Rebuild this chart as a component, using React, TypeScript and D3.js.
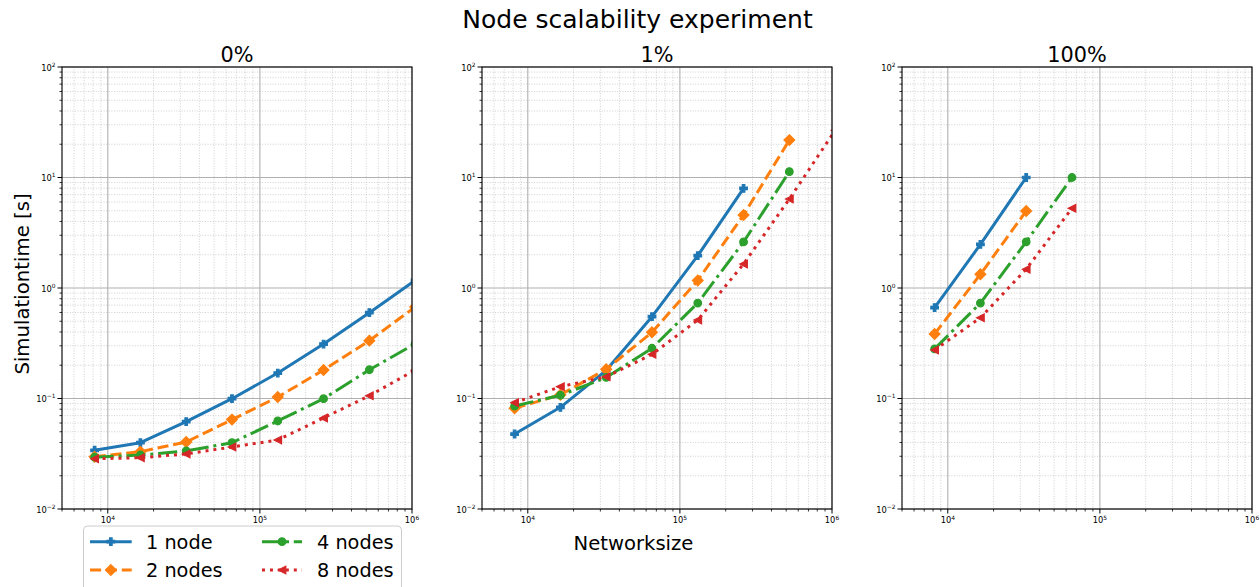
import React from "react";
import * as d3 from "d3";

// ---------------- DATA ----------------
const networkSizes = [8192, 16384, 32768, 65536, 131072, 262144, 524288, 1048576];
const panelTitles = ["0%", "1%", "100%"];
const seriesNames = ["1 node", "2 nodes", "4 nodes", "8 nodes"];

// 0% panel
const p0_node1 = [0.034, 0.0398, 0.0617, 0.0996, 0.17, 0.311, 0.598, 1.17];
const p0_node2 = [0.0297, 0.033, 0.0404, 0.0644, 0.103, 0.181, 0.334, 0.673];
const p0_node4 = [0.0294, 0.0308, 0.0335, 0.0398, 0.0626, 0.0996, 0.182, 0.313];
const p0_node8 = [0.0285, 0.0291, 0.0315, 0.0364, 0.0421, 0.0667, 0.106, 0.181];

// 1% panel
const p1_node1 = [0.0477, 0.0832, 0.18, 0.55, 1.96, 7.98];
const p1_node2 = [0.0815, 0.108, 0.184, 0.397, 1.17, 4.58, 21.8];
const p1_node4 = [0.0855, 0.107, 0.155, 0.285, 0.731, 2.61, 11.3];
const p1_node8 = [0.0917, 0.128, 0.157, 0.251, 0.513, 1.65, 6.39, 26.7];

// 100% panel
const p2_node1 = [0.664, 2.48, 10.0];
const p2_node2 = [0.384, 1.33, 4.98];
const p2_node4 = [0.281, 0.731, 2.62, 10.0];
const p2_node8 = [0.275, 0.538, 1.48, 5.26];

const panelData = [
  [p0_node1, p0_node2, p0_node4, p0_node8],
  [p1_node1, p1_node2, p1_node4, p1_node8],
  [p2_node1, p2_node2, p2_node4, p2_node8],
];

const xDomain = [5000, 1e6];
const yDomain = [1e-2, 1e2];
const xMajorExps = [4, 5, 6];
const yMajorExps = [-2, -1, 0, 1, 2];

const mainTitle = "Node scalability experiment";
const xLabel = "Networksize";
const yLabel = "Simulationtime [s]";

// ---------------- STYLE ----------------
const W = 1260;
const H = 587;
const PANEL_LEFTS = [62, 482, 902];
const PANEL_W = 350;
const TOP = 67;
const BOTTOM = 509;
const FONT = "DejaVu Sans";
const colors = ["#1f77b4", "#ff7f0e", "#2ca02c", "#d62728"];
const LW = 3;
const dashes = ["none", `${3.7 * LW} ${1.6 * LW}`, `${6.4 * LW} ${1.6 * LW} ${1 * LW} ${1.6 * LW}`, `${1 * LW} ${1.65 * LW}`];
const markerKinds = ["P", "D", "o", "<"];
const MS = 7.6;

function markerPath(kind: string, s: number): string {
  if (kind === "P") {
    const u = s / 6;
    const pts = [[-1, -3], [-1, -1], [-3, -1], [-3, 1], [-1, 1], [-1, 3], [1, 3], [1, 1], [3, 1], [3, -1], [1, -1], [1, -3]];
    return "M" + pts.map((p) => `${p[0] * u},${p[1] * u}`).join("L") + "Z";
  }
  if (kind === "D") {
    const r = (s * Math.SQRT2) / 2;
    return `M0,${-r}L${r},0L0,${r}L${-r},0Z`;
  }
  if (kind === "o") {
    const r = s / 2;
    return `M${r},0A${r},${r} 0 1,1 ${-r},0A${r},${r} 0 1,1 ${r},0Z`;
  }
  const h = s / 2;
  return `M${-h},0L${h},${-h}L${h},${h}Z`;
}

function minorValues(lo: number, hi: number): number[] {
  const out: number[] = [];
  for (let e = Math.floor(Math.log10(lo)); e <= Math.ceil(Math.log10(hi)); e++) {
    for (let m = 2; m <= 9; m++) {
      const v = m * Math.pow(10, e);
      if (v >= lo * 0.9999 && v <= hi * 1.0001) out.push(v);
    }
  }
  return out;
}

function Pow10({ x, y, exp, anchor }: { x: number; y: number; exp: number; anchor: string }) {
  const e = exp < 0 ? "\u2212" + Math.abs(exp) : String(exp);
  return (
    <text x={x} y={y} fontSize={8.3} fontFamily={FONT} textAnchor={anchor} fill="#000">
      <tspan>10</tspan>
      <tspan dy={-3.6} fontSize={5.9}>{e}</tspan>
    </text>
  );
}

function Panel({ idx }: { idx: number }) {
  const left = PANEL_LEFTS[idx];
  const right = left + PANEL_W;
  const x = d3.scaleLog().domain(xDomain).range([left, right]);
  const y = d3.scaleLog().domain(yDomain).range([BOTTOM, TOP]);
  const xMinor = minorValues(xDomain[0], xDomain[1]);
  const yMinor = minorValues(yDomain[0], yDomain[1]);
  const clipId = `clip-${idx}`;
  const series = panelData[idx];

  return (
    <g>
      <defs>
        <clipPath id={clipId}>
          <rect x={left} y={TOP} width={PANEL_W} height={BOTTOM - TOP} />
        </clipPath>
      </defs>
      <rect x={left} y={TOP} width={PANEL_W} height={BOTTOM - TOP} fill="#fff" />
      {xMinor.map((v, i) => (
        <line key={"xm" + i} x1={x(v)} x2={x(v)} y1={TOP} y2={BOTTOM} stroke="#c4c4c4" strokeWidth={0.8} strokeDasharray="1 1.6" />
      ))}
      {yMinor.map((v, i) => (
        <line key={"ym" + i} x1={left} x2={right} y1={y(v)} y2={y(v)} stroke="#c4c4c4" strokeWidth={0.8} strokeDasharray="1 1.6" />
      ))}
      {xMajorExps.map((e) => (
        <line key={"xM" + e} x1={x(Math.pow(10, e))} x2={x(Math.pow(10, e))} y1={TOP} y2={BOTTOM} stroke="#b0b0b0" strokeWidth={1.1} />
      ))}
      {yMajorExps.map((e) => (
        <line key={"yM" + e} x1={left} x2={right} y1={y(Math.pow(10, e))} y2={y(Math.pow(10, e))} stroke="#b0b0b0" strokeWidth={1.1} />
      ))}
      <g clipPath={`url(#${clipId})`}>
        {series.map((vals, si) => {
          const pts = vals.map((v, i) => [networkSizes[i], v] as [number, number]);
          const line = d3
            .line<[number, number]>()
            .x((d) => x(d[0]))
            .y((d) => y(d[1]));
          const mp = markerPath(markerKinds[si], MS);
          return (
            <g key={si}>
              <path
                d={line(pts) || ""}
                fill="none"
                stroke={colors[si]}
                strokeWidth={LW}
                strokeDasharray={dashes[si]}
                strokeLinejoin="round"
              />
              {pts.map((p, i) => (
                <path
                  key={i}
                  d={mp}
                  transform={`translate(${x(p[0])},${y(p[1])})`}
                  fill={colors[si]}
                  stroke={colors[si]}
                  strokeWidth={1.2}
                />
              ))}
            </g>
          );
        })}
      </g>
      <rect x={left} y={TOP} width={PANEL_W} height={BOTTOM - TOP} fill="none" stroke="#000" strokeWidth={1.1} />
      {xMinor.map((v, i) => (
        <line key={"xt" + i} x1={x(v)} x2={x(v)} y1={BOTTOM} y2={BOTTOM + 2.5} stroke="#000" strokeWidth={0.8} />
      ))}
      {xMajorExps.map((e) => (
        <g key={"xT" + e}>
          <line x1={x(Math.pow(10, e))} x2={x(Math.pow(10, e))} y1={BOTTOM} y2={BOTTOM + 4.5} stroke="#000" strokeWidth={1} />
          <Pow10 x={x(Math.pow(10, e))} y={BOTTOM + 14.3} exp={e} anchor="middle" />
        </g>
      ))}
      {yMinor.map((v, i) => (
        <line key={"yt" + i} x1={left - 2.5} x2={left} y1={y(v)} y2={y(v)} stroke="#000" strokeWidth={0.8} />
      ))}
      {yMajorExps.map((e) => (
        <g key={"yT" + e}>
          <line x1={left - 4.5} x2={left} y1={y(Math.pow(10, e))} y2={y(Math.pow(10, e))} stroke="#000" strokeWidth={1} />
          <Pow10 x={left - 6.5} y={y(Math.pow(10, e)) + 3.5} exp={e} anchor="end" />
        </g>
      ))}
      <text x={(left + right) / 2} y={61.7} textAnchor="middle" fontSize={20.8} fontFamily={FONT} fill="#000">
        {panelTitles[idx]}
      </text>
    </g>
  );
}

function Legend() {
  const lx = 83.5;
  const ly = 526;
  const cols = [
    { hx1: 90, hx2: 131.7, tx: 146 },
    { hx1: 262, hx2: 302, tx: 317 },
  ];
  const rows = [541.7, 570];
  const order = [
    [0, 0, 0],
    [1, 0, 1],
    [2, 1, 0],
    [3, 1, 1],
  ];
  return (
    <g>
      <rect x={lx} y={ly} width={318} height={80} rx={4} ry={4} fill="#fff" fillOpacity={0.8} stroke="#cccccc" strokeWidth={1} />
      {order.map(([si, c, r]) => {
        const col = cols[c];
        const yy = rows[r];
        const mx = (col.hx1 + col.hx2) / 2;
        return (
          <g key={si}>
            <line x1={col.hx1} x2={col.hx2} y1={yy} y2={yy} stroke={colors[si]} strokeWidth={LW} strokeDasharray={dashes[si]} />
            <path d={markerPath(markerKinds[si], MS)} transform={`translate(${mx},${yy})`} fill={colors[si]} stroke={colors[si]} strokeWidth={1.2} />
            <text x={col.tx} y={yy + 7} fontSize={19.3} fontFamily={FONT} fill="#000">
              {seriesNames[si]}
            </text>
          </g>
        );
      })}
    </g>
  );
}

export default function App() {
  return (
    <svg width={W} height={H} style={{ position: "absolute", left: 0, top: 0, background: "#fff" }} xmlns="http://www.w3.org/2000/svg">
      <rect x={0} y={0} width={W} height={H} fill="#fff" />
      <text x={637.5} y={28.3} textAnchor="middle" fontSize={25} fontFamily={FONT} fill="#000">
        {mainTitle}
      </text>
      {[0, 1, 2].map((i) => (
        <Panel key={i} idx={i} />
      ))}
      <text x={633.5} y={549.5} textAnchor="middle" fontSize={19.6} fontFamily={FONT} fill="#000">
        {xLabel}
      </text>
      <text transform={`translate(29,284) rotate(-90)`} textAnchor="middle" fontSize={19.7} fontFamily={FONT} fill="#000">
        {yLabel}
      </text>
      <Legend />
    </svg>
  );
}
